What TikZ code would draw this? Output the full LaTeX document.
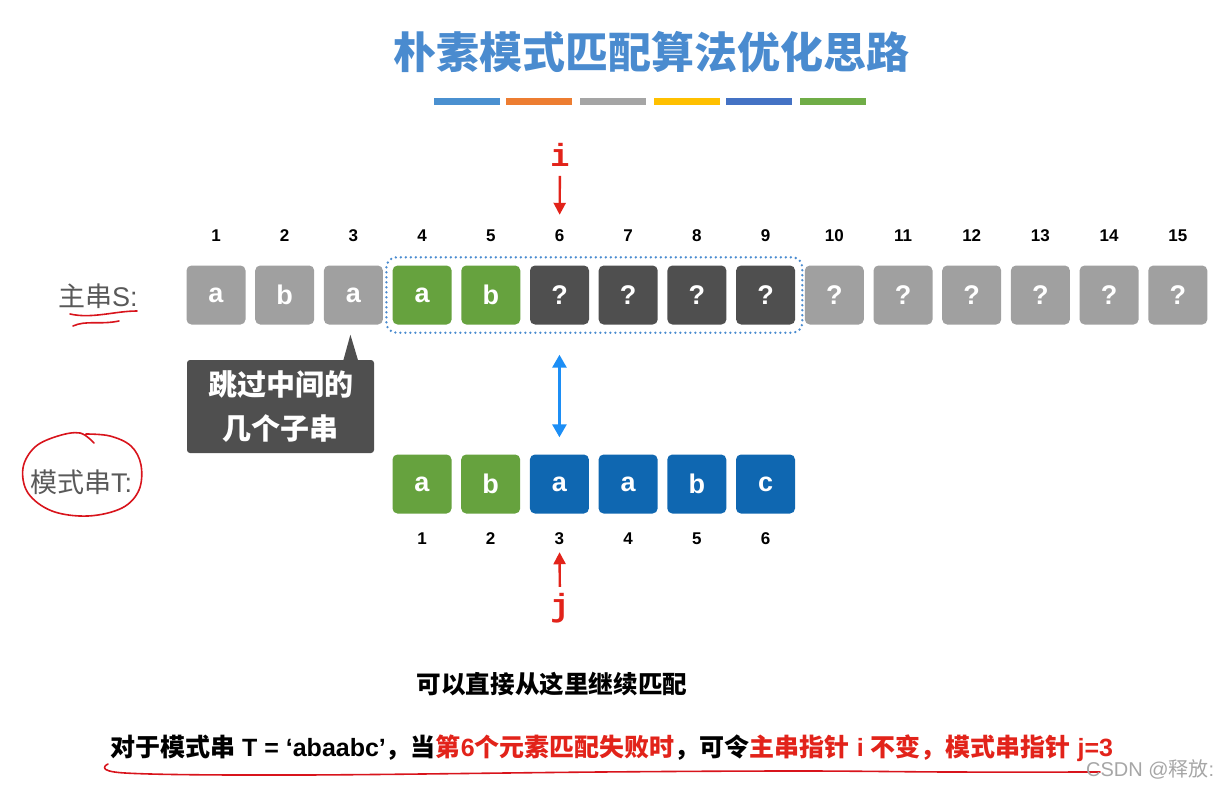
\documentclass[tikz,border=0pt]{standalone}
\usepackage{fontspec}
\setmainfont{Liberation Sans}
\newfontfamily\cjk{Noto Sans CJK SC}
\newfontfamily\mono{Liberation Mono}
\usetikzlibrary{calc}
\usetikzlibrary{arrows.meta}

\definecolor{lgray}{HTML}{A0A0A0}
\definecolor{dgray}{HTML}{4F4F4F}
\definecolor{sgreen}{HTML}{66A23E}
\definecolor{tblue}{HTML}{0F67B1}
\definecolor{tiblue}{HTML}{4A8BCF}
\definecolor{ptred}{HTML}{E2231A}
\definecolor{hand}{HTML}{D8141C}
\definecolor{lblue}{HTML}{1C8EF5}
\definecolor{labgray}{HTML}{595959}
\definecolor{barblue}{HTML}{4A90D0}
\definecolor{barorange}{HTML}{ED7D31}
\definecolor{bargray}{HTML}{A5A5A5}
\definecolor{baryellow}{HTML}{FFC000}
\definecolor{bardblue}{HTML}{4472C4}
\definecolor{bargreen}{HTML}{70AD47}

\tikzset{
  cell/.style={fill=lgray, rounded corners=5pt, minimum size=59pt, text=white,
    font=\fontsize{27}{27}\selectfont\bfseries},
  num/.style={font=\fontsize{17}{17}\selectfont\bfseries},
  ptr/.style={ptred, line width=2.4pt, -{Triangle[length=12pt,width=12pt]}},
  pen/.style={hand, line width=1.6pt, line cap=round, line join=round}
}

\begin{document}
\begin{tikzpicture}[x=1pt,y=-1pt,inner sep=0pt]
\useasboundingbox (0,0) rectangle (1231,789);
\def\dx{68.7}

% title and colour bars
\node[text=tiblue, font=\fontsize{43}{43}\selectfont\cjk\bfseries] (title) at (651,52) {朴素模式匹配算法优化思路};
\fill[barblue] (434,98) rectangle (500,105);
\fill[barorange] (506,98) rectangle (572,105);
\fill[bargray] (580,98) rectangle (646,105);
\fill[baryellow] (654,98) rectangle (720,105);
\fill[bardblue] (726,98) rectangle (792,105);
\fill[bargreen] (800,98) rectangle (866,105);

% main string S
\foreach \k/\c/\l in {1/lgray/a,2/lgray/b,3/lgray/a,4/sgreen/a,5/sgreen/b,6/dgray/?,7/dgray/?,8/dgray/?,9/dgray/?,10/lgray/?,11/lgray/?,12/lgray/?,13/lgray/?,14/lgray/?,15/lgray/?}{
  \node[cell, fill=\c] (s\k) at ({216+(\k-1)*\dx},295) {\l};
  \node[num] (ns\k) at ({216+(\k-1)*\dx},236) {\k};
}
\draw[tiblue, line width=2.6pt, dash pattern=on 0pt off 5pt, line cap=round, rounded corners=10pt]
  ($(s4.north west)+(-6,-8)$) rectangle ($(s9.south east)+(7,8)$);

% pattern string T
\foreach \k/\c/\l in {1/sgreen/a,2/sgreen/b,3/tblue/a,4/tblue/a,5/tblue/b,6/tblue/c}{
  \node[cell, fill=\c] (t\k) at ({422+(\k-1)*\dx},484) {\l};
  \node[num] (nt\k) at ({422+(\k-1)*\dx},539) {\k};
}

% pointers
\node[text=ptred, font=\fontsize{32}{32}\selectfont\mono\bfseries] (ilab) at (560,155) {i};
\node[text=ptred, font=\fontsize{32}{32}\selectfont\mono\bfseries] (jlab) at (560,608) {j};
\draw[ptr, shorten <=9pt, shorten >=15pt] (ilab) -- (ns6);
\draw[ptr, shorten <=6pt, shorten >=7pt] (jlab) -- (nt3);
\draw[lblue, line width=2.8pt, {Triangle[length=13pt,width=14pt]}-{Triangle[length=13pt,width=14pt]},
  shorten <=30pt, shorten >=17pt] (s6) -- (t3);

% callout
\node[fill=dgray, rounded corners=3pt, minimum width=187pt, minimum height=93pt, text=white,
  align=center, font=\fontsize{29}{44}\selectfont\cjk\bfseries] (skip) at (280.5,406.5) {跳过中间的\\几个子串};
\fill[dgray] ($(skip.north east)+(-31,1)$) -- ($(s3.south)+(-3,10)$) -- ($(skip.north east)+(-16,1)$) -- cycle;

% row labels
\node[anchor=west, text=labgray, font=\fontsize{27}{27}\selectfont] (slab) at (58,296) {{\cjk 主串}S:};
\node[anchor=west, text=labgray, font=\fontsize{27}{27}\selectfont] (tlab) at (30,482) {{\cjk 模式串}T:};

% hand marks
\draw[pen] (70,314) .. controls (92,319) and (115,311) .. (137,311);
\draw[pen] (73,326) .. controls (86,320) and (100,325) .. (119,321);
\draw[pen] plot[smooth, tension=0.6] coordinates {(94,443) (80,433) (58,436) (35,447) (23,468) (28,493) (52,511) (88,516) (122,508) (139,490) (141,465) (131,446) (110,436) (86,434)};
\draw[pen] plot[smooth, tension=0.6] coordinates {(108,764) (125,773) (300,775) (600,772) (800,771) (950,772) (1100,772)};

% bottom text
\node[font=\fontsize{24.6}{24.6}\selectfont\cjk\bfseries] (cont) at (552,684) {可以直接从这里继续匹配};
\node[anchor=west, font=\fontsize{25}{25}\selectfont\bfseries] (note) at (110,748)
  {{\cjk 对于模式串} T = ‘abaabc’{\cjk ，当}\textcolor{ptred}{{\cjk 第}6{\cjk 个元素匹配失败时}}{\cjk ，可令}\textcolor{ptred}{{\cjk 主串指针} i {\cjk 不变，模式串指针} j=3}};
\node[anchor=west, text=black!35, font=\fontsize{20}{20}\selectfont] (mark) at (1086,769) {CSDN @{\cjk 释放}:};
\end{tikzpicture}
\end{document}
